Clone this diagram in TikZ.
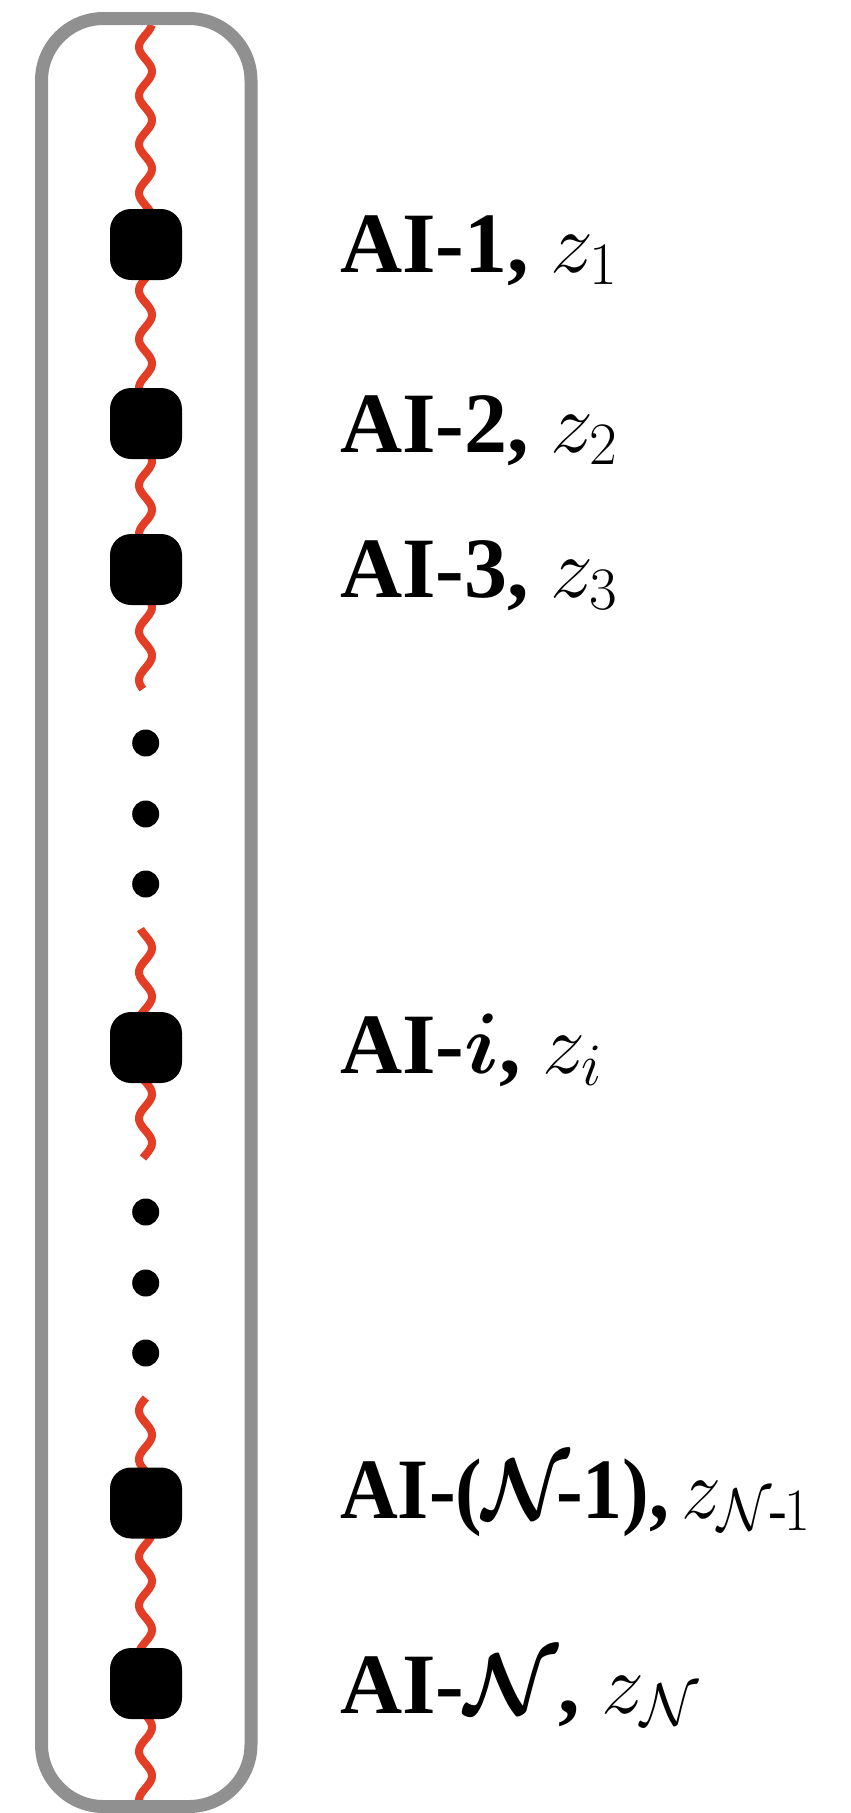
\RequirePackage{fix-cm}
\documentclass[tikz,border=0pt]{standalone}
\usepackage{amsmath,bm,graphicx}
\usepackage{fontspec}
\setmainfont{Liberation Serif}
\definecolor{wavered}{RGB}{228,61,37}
\definecolor{boxgray}{RGB}{144,144,144}
\begin{document}
\begin{tikzpicture}[x=1pt,y=-1pt,
  agent/.style={fill=black, rounded corners=21pt, minimum width=72pt, minimum height=71pt, inner sep=0pt},
  dotnode/.style={circle, fill=black, minimum size=27pt, inner sep=0pt},
  wave/.style={draw=wavered, line width=8pt},
  lbl/.style={anchor=base west, inner sep=0pt, font=\fontsize{86}{100}\selectfont\bfseries},
  frame/.style={draw=boxgray, line width=13pt, rounded corners=62pt, inner sep=0pt}]
\useasboundingbox (0,0) rectangle (851,1813);
% red wavy line (three pieces)
\draw[wave] plot[domain=25:689, samples=400, variable=\t] ({145.5+6.5*sin(7.3922*(\t-47)-90)}, \t);
\draw[wave] plot[domain=929:1158, samples=200, variable=\t] ({145.5+6.5*sin(7.3922*(\t-47)-90)}, \t);
\draw[wave] plot[domain=1398:1805, samples=300, variable=\t] ({145.5+6.5*sin(7.3922*(\t-47)-90)}, \t);
% frame
\draw[frame] (41.5,18.5) rectangle (251,1806.5);
% agents
\node[agent] (a1) at (146,244.5) {};
\node[agent] (a2) at (146,423.5) {};
\node[agent] (a3) at (146,569.5) {};
\node[agent] (ai) at (146,1047.5) {};
\node[agent] (an1) at (146,1503) {};
\node[agent] (an) at (146,1683.5) {};
% dots
\node[dotnode] (d1) at (145.7,743) {};
\node[dotnode] (d2) at (145.7,814) {};
\node[dotnode] (d3) at (145.7,884) {};
\node[dotnode] (d4) at (145.7,1212) {};
\node[dotnode] (d5) at (145.7,1283) {};
\node[dotnode] (d6) at (145.7,1353) {};
% labels
\node[lbl] (l1) at (340,272) {AI-1, $z_1$};
\node[lbl] (l2) at (340,452) {AI-2, $z_2$};
\node[lbl] (l3) at (340,597) {AI-3, $z_3$};
\node[lbl] (li) at (340,1073) {AI-$\bm{i}$, $z_i$};
\node[lbl] (ln1) at (340,1518) {\scalebox{0.93}[1]{AI-($\bm{\mathcal{N}}\mkern-3mu$-1),\kern-0.1em{} $z_{\mathcal{N}\mkern-1mu\text{\normalfont -}\mkern-1mu1}$}};
\node[lbl] (ln) at (340,1713) {AI-$\bm{\mathcal{N}}$, $z_{\mathcal{N}}$};
\end{tikzpicture}
\end{document}
